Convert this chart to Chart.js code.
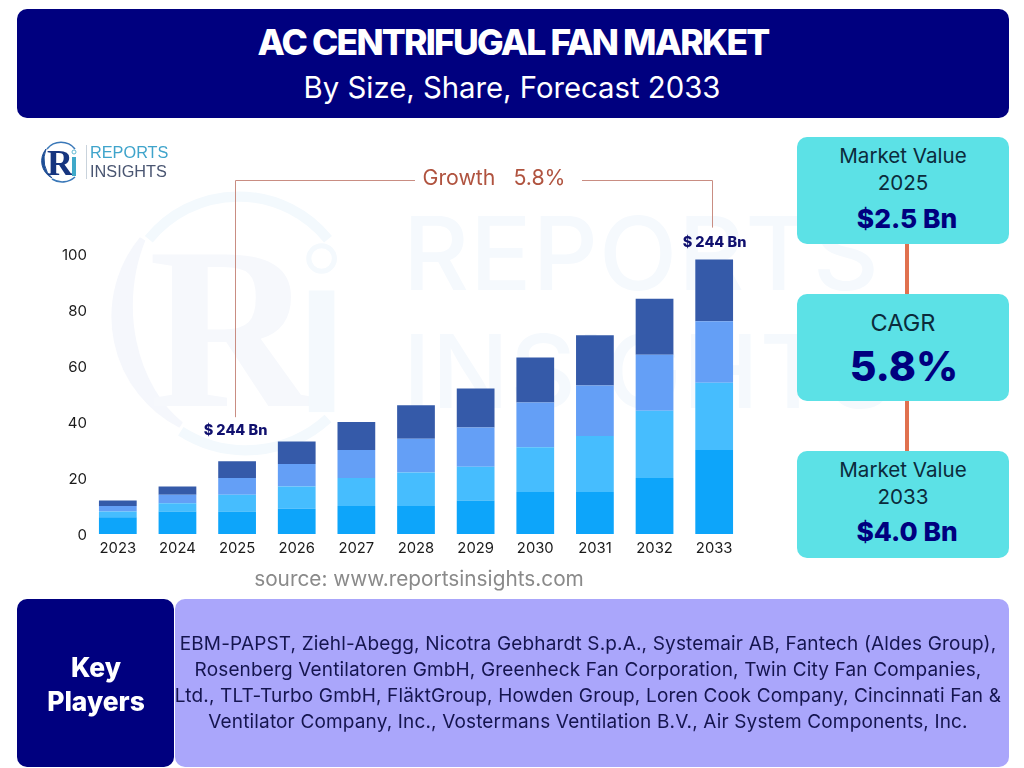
<!DOCTYPE html>
<html>
<head>
<meta charset="utf-8">
<title>AC Centrifugal Fan Market</title>
<script src="https://cdn.jsdelivr.net/npm/chart.js@4"></script>
<style>
  html, body { margin: 0; padding: 0; background: #fff; }
  #page { position: relative; width: 1024px; height: 768px; overflow: hidden; font-family: Inter, sans-serif; }
  #page > * { position: absolute; }
  canvas { left: 0; top: 0; }
  .box { border-radius: 10px; }
  .navy { background: #00007f; }
  .card { left: 797px; width: 212px; height: 107px; background: #5ce1e6; }
  .link { left: 905px; width: 4px; background: #e0714f; }
  .t { transform: translate(-50%, -50%); white-space: nowrap; line-height: 1; }
  .cardText { left: 903px; color: #0b2b3c; font-size: 20.6px; }
  .cardValue { left: 907px; color: #00007f; font-size: 26.3px; font-weight: 800; }
  .player { left: 588px; color: #15154f; font-size: 19px; letter-spacing: 0.15px; }
  .wm { left: 403px; color: #f5f9fd; font-size: 102px; font-weight: 500; line-height: 1; white-space: nowrap; }
</style>
</head>
<body>
<div id="page">
  <svg id="wmLogo" style="left:104px;top:188px" width="256" height="269" viewBox="0 0 40 42"></svg>
  <div class="wm" style="top:202px;letter-spacing:1px">REPORTS</div>
  <div class="wm" style="top:320px;letter-spacing:1px">INSIGHTS</div>

  <canvas id="market-chart" width="1024" height="768"></canvas>

  <div class="box navy" style="left:17px;top:9px;width:992px;height:109px"></div>
  <div class="t" style="left:513px;top:43px;color:#fff;font-size:35.5px;font-weight:800;letter-spacing:-1.8px">AC CENTRIFUGAL FAN MARKET</div>
  <div class="t" style="left:512px;top:88px;color:#fff;font-size:29.3px">By Size, Share, Forecast 2033</div>

  <svg id="logo" style="left:40px;top:141px" width="40" height="42" viewBox="0 0 40 42"></svg>
  <div style="left:86px;top:145px;width:1px;height:34px;background:#c9d3dc"></div>
  <div style="left:90px;top:143px;color:#3fa4cb;font:16.3px/18px 'Liberation Sans',sans-serif">REPORTS</div>
  <div style="left:90px;top:162px;color:#4a5672;font:16.3px/18px 'Liberation Sans',sans-serif">INSIGHTS</div>

  <div class="link" style="top:244px;height:50px"></div>
  <div class="link" style="top:401px;height:50px"></div>
  <div class="box card" style="top:137px"></div>
  <div class="box card" style="top:294px"></div>
  <div class="box card" style="top:451px"></div>
  <div class="t cardText" style="top:156px">Market Value</div>
  <div class="t cardText" style="top:183px">2025</div>
  <div class="t cardValue" style="top:219px">$2.5 Bn</div>
  <div class="t cardText" style="top:323px;font-size:23.5px">CAGR</div>
  <div class="t cardValue" style="left:904px;top:366px;font-size:41px">5.8%</div>
  <div class="t cardText" style="top:470px">Market Value</div>
  <div class="t cardText" style="top:497px">2033</div>
  <div class="t cardValue" style="top:532px">$4.0 Bn</div>

  <div class="t" style="left:419px;top:579px;color:#8a8a8a;font-size:20.8px">source: www.reportsinsights.com</div>

  <div class="box" style="left:175px;top:599px;width:834px;height:168px;background:#aaa6fb"></div>
  <div class="box navy" style="left:17px;top:599px;width:157px;height:168px"></div>
  <div class="t" style="left:96px;top:667px;color:#fff;font-size:26.4px;font-weight:800">Key</div>
  <div class="t" style="left:96px;top:701px;color:#fff;font-size:26.4px;font-weight:800">Players</div>
</div>

<script>
const years = ['2023', '2024', '2025', '2026', '2027', '2028', '2029', '2030', '2031', '2032', '2033'];
const seriesA = [6, 8, 8, 9, 10, 10, 12, 15, 15, 20, 30];
const seriesB = [2, 3, 6, 8, 10, 12, 12, 16, 20, 24, 24];
const seriesC = [2, 3, 6, 8, 10, 12, 14, 16, 18, 20, 22];
const seriesD = [2, 3, 6, 8, 10, 12, 14, 16, 18, 20, 22];
const yTicks = [0, 20, 40, 60, 80, 100];
const calloutYears = ['2025', '2033'];
const calloutLabels = ['$ 244 Bn', '$ 244 Bn'];
const growthLabel = 'Growth   5.8%';
const playerLines = [
  'EBM-PAPST, Ziehl-Abegg, Nicotra Gebhardt S.p.A., Systemair AB, Fantech (Aldes Group),',
  'Rosenberg Ventilatoren GmbH, Greenheck Fan Corporation, Twin City Fan Companies,',
  'Ltd., TLT-Turbo GmbH, FläktGroup, Howden Group, Loren Cook Company, Cincinnati Fan &',
  'Ventilator Company, Inc., Vostermans Ventilation B.V., Air System Components, Inc.'
];

// logo mark, used small at the top and as the pale watermark behind the chart
const drawMark = (id, ring, left, letter, dot) => {
  document.getElementById(id).innerHTML =
    `<path d="M7 8 A18 18 0 0 1 35 8" fill="none" stroke="${ring}" stroke-width="1.6"/>` +
    `<path d="M6 8 A19 19 0 0 0 12 37 A17 22 0 0 1 6 8 Z" fill="${left}" stroke="${left}" stroke-width="1"/>` +
    `<path d="M12 38 A19 19 0 0 0 35 36" fill="none" stroke="${ring}" stroke-width="1.6"/>` +
    `<text x="7" y="34" font-family="Liberation Serif" font-weight="700" font-size="36" fill="${letter}">R</text>` +
    `<rect x="32" y="16" width="4" height="19" fill="${dot}"/>` +
    `<circle cx="34" cy="11" r="2" fill="none" stroke="${dot}" stroke-width="0.8"/>`;
};
drawMark('logo', '#3a78b8', '#1f4f96', '#16357f', '#3fa9c9');
drawMark('wmLogo', '#f3f9fd', '#f5f7fc', '#f6f8fc', '#f4f9fd');

playerLines.forEach((line, i) => {
  const el = document.createElement('div');
  el.className = 't player';
  el.style.position = 'absolute';
  el.style.top = (643 + i * 26) + 'px';
  el.textContent = line;
  document.getElementById('page').appendChild(el);
});

// red bracket from the 2025 bar up and across to the 2033 bar, with the value labels
const growthBracket = {
  id: 'growthBracket',
  afterDraw(chart) {
    const { ctx, scales } = chart;
    const stackTop = (year) => {
      const i = years.indexOf(year);
      return scales.y.getPixelForValue(seriesA[i] + seriesB[i] + seriesC[i] + seriesD[i]);
    };
    const xL = Math.round(scales.x.getPixelForValue(years.indexOf(calloutYears[0]))) - 1.5;
    const xR = Math.round(scales.x.getPixelForValue(years.indexOf(calloutYears[1]))) - 1.5;
    const yTop = 180.5;

    ctx.save();
    ctx.strokeStyle = '#c98d82';
    ctx.lineWidth = 1;
    ctx.beginPath();
    ctx.moveTo(xL, stackTop(calloutYears[0]) - 44);
    ctx.lineTo(xL, yTop);
    ctx.lineTo(415, yTop);
    ctx.moveTo(582, yTop);
    ctx.lineTo(xR, yTop);
    ctx.lineTo(xR, stackTop(calloutYears[1]) - 32);
    ctx.stroke();

    ctx.fillStyle = '#b0533f';
    ctx.font = '21.3px Inter';
    ctx.textAlign = 'center';
    ctx.textBaseline = 'middle';
    ctx.fillText(growthLabel, 494, 179);

    ctx.fillStyle = '#10106e';
    ctx.font = '800 14.5px Inter';
    ctx.fillText(calloutLabels[0], xL, stackTop(calloutYears[0]) - 31);
    ctx.fillText(calloutLabels[1], xR + 2, stackTop(calloutYears[1]) - 17);
    ctx.restore();
  },
};

const makeSet = (label, data, color) => ({
  label,
  data,
  backgroundColor: color,
  borderWidth: 0,
  categoryPercentage: 1,
  barPercentage: 0.633,
});

new Chart(document.getElementById('market-chart').getContext('2d'), {
  type: 'bar',
  data: {
    labels: years,
    datasets: [
      makeSet('A', seriesA, '#0da5fa'),
      makeSet('B', seriesB, '#46bdfe'),
      makeSet('C', seriesC, '#649ff6'),
      makeSet('D', seriesD, '#355aa9'),
    ],
  },
  options: {
    responsive: false,
    animation: false,
    devicePixelRatio: 1,
    layout: { padding: { left: 0, right: 280, top: 254, bottom: 204 } },
    plugins: { legend: { display: false }, tooltip: { enabled: false }, title: { display: false } },
    scales: {
      x: {
        stacked: true,
        grid: { display: false, drawTicks: false },
        border: { display: false },
        ticks: { color: '#1a1a1a', font: { family: 'Inter', size: 14.8 }, padding: 6, maxRotation: 0, autoSkip: false },
        afterFit(scale) { scale.height = 30; },
      },
      y: {
        stacked: true,
        min: 0,
        max: 100,
        grid: { display: false, drawTicks: false },
        border: { display: false },
        afterBuildTicks(scale) { scale.ticks = yTicks.map((value) => ({ value })); },
        ticks: { color: '#1a1a1a', font: { family: 'Inter', size: 15 }, padding: 1, labelOffset: 1 },
        afterFit(scale) { scale.width = 88; },
      },
    },
  },
  plugins: [growthBracket],
});
</script>
</body>
</html>
